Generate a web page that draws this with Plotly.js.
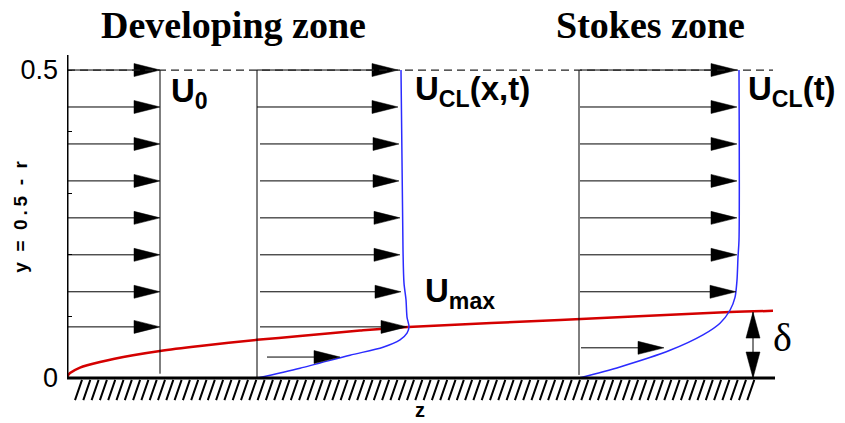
<!DOCTYPE html>
<html>
<head>
<meta charset="utf-8">
<script src="https://cdn.plot.ly/plotly-3.0.1.min.js"></script>
<style>html,body{margin:0;padding:0;background:#fff;}#chart{width:845px;height:423px;}</style>
</head>
<body>
<div id="chart"></div>
<script>
// ---------- data (z: streamwise distance, y = 0.5 - r) ----------
const zoneTitles = ["Developing zone", "Stokes zone"];
const zoneTitleZ = [1.66, 5.83];
const yTitle = "y = 0.5 - r";
const xTitle = "z";

// boundary-layer thickness delta(z)
const deltaZ = [0, 0.01, 0.03, 0.13, 0.33, 0.66, 0.93, 1.33, 1.90, 2.33, 2.93, 3.41, 4.93, 6.63, 7.06];
const deltaY = [0, 0.0045, 0.008, 0.017, 0.026, 0.037, 0.044, 0.052, 0.062, 0.068, 0.077, 0.083, 0.094, 0.107, 0.109];

// profile 1 (inlet, uniform U0)
const base1 = 0;
const levels1 = [0.5, 0.44, 0.38, 0.32, 0.26, 0.20, 0.14, 0.083];
const U0 = 0.93;

// profile 2 (developing)
const base2 = 1.90;
const levels2 = [0.5, 0.44, 0.38, 0.32, 0.26, 0.20, 0.14, 0.083, 0.034];
const u2 = [1.41, 1.41, 1.42, 1.42, 1.43, 1.43, 1.44, 1.50, 0.83];
const start2 = [0, 0, 0.03, 0.03, 0.03, 0.03, 0.03, 0.03, 0.10];
const curve2Y = [0, 0.016, 0.037, 0.050, 0.062, 0.073, 0.083, 0.099, 0.127, 0.154, 0.208, 0.5];
const curve2U = [0, 0.43, 0.93, 1.26, 1.43, 1.50, 1.52, 1.50, 1.49, 1.47, 1.46, 1.44];

// profile 3 (Stokes)
const base3 = 5.12;
const levels3 = [0.5, 0.44, 0.38, 0.32, 0.26, 0.20, 0.14, 0.049];
const u3 = [1.58, 1.58, 1.58, 1.58, 1.58, 1.58, 1.57, 0.85];
const start3 = [0.01, 0.01, 0.01, 0.01, 0.01, 0.01, 0.01, 0.02];
const curve3Y = [0, 0.018, 0.045, 0.070, 0.089, 0.110, 0.131, 0.159, 0.196, 0.224, 0.5];
const curve3U = [0, 0.41, 0.91, 1.24, 1.41, 1.51, 1.56, 1.58, 1.59, 1.60, 1.60];

// delta marker position
const deltaMarkZ = 6.86;
const deltaMarkY = 0.107;

// axis ticks
const yTickVals = [0, 0.1, 0.2, 0.3, 0.4, 0.5];
const yTickText = ["0", "", "", "", "", "0.5"];

// ---------- geometry helpers ----------
const W = 845, H = 423;
const M = {l: 67, r: 0, t: 55, b: 2};
const Z_RANGE = [0, 7.78];
const Y_RANGE = [-0.0698, 0.5244];
const PXZ = (W - M.l - M.r) / (Z_RANGE[1] - Z_RANGE[0]);
const PXY = (H - M.t - M.b) / (Y_RANGE[1] - Y_RANGE[0]);
const HEAD_L = 26 / PXZ, HEAD_H = 6.5 / PXY;

const shaftX = [], shaftY = [], headX = [], headY = [];
function arrow(x0, x1, y) {
  shaftX.push(x0, x1 - HEAD_L * 0.5, null); shaftY.push(y, y, null);
  headX.push(x1, x1 - HEAD_L, x1 - HEAD_L, x1, null);
  headY.push(y, y + HEAD_H, y - HEAD_H, y, null);
}
levels1.forEach(y => arrow(base1, base1 + U0, y));
levels2.forEach((y, i) => arrow(base2 + start2[i], base2 + u2[i], y));
levels3.forEach((y, i) => arrow(base3 + start3[i], base3 + u3[i], y));

// delta double arrow heads (vertical)
const VHL = 26 / PXY, VHW = 7 / PXZ;
headX.push(deltaMarkZ, deltaMarkZ - VHW, deltaMarkZ + VHW, deltaMarkZ, null);
headY.push(deltaMarkY, deltaMarkY - VHL, deltaMarkY - VHL, deltaMarkY, null);
headX.push(deltaMarkZ, deltaMarkZ - VHW, deltaMarkZ + VHW, deltaMarkZ, null);
headY.push(0, VHL, VHL, 0, null);

const traces = [
  {x: deltaZ, y: deltaY, mode: "lines", line: {color: "#d40000", width: 2.5, shape: "spline", smoothing: 0.8}, hoverinfo: "skip"},
  {x: curve2U.map(u => base2 + u), y: curve2Y, mode: "lines", line: {color: "#2b2bff", width: 1.5, shape: "spline", smoothing: 0.8}, hoverinfo: "skip"},
  {x: curve3U.map(u => base3 + u), y: curve3Y, mode: "lines", line: {color: "#2b2bff", width: 1.5, shape: "spline", smoothing: 0.8}, hoverinfo: "skip"},
  // profile lines: uniform U0 line and the base lines of profiles 2, 3
  {x: [base1 + U0, base1 + U0, null, base2, base2, null, base3, base3, null, deltaMarkZ, deltaMarkZ],
   y: [0.007, 0.5, null, 0, 0.5, null, 0.005, 0.5, null, 0, deltaMarkY],
   mode: "lines", line: {color: "#000", width: 1}, hoverinfo: "skip"},
  {x: shaftX, y: shaftY, mode: "lines", line: {color: "#000", width: 1}, hoverinfo: "skip"},
  {x: headX, y: headY, mode: "lines", fill: "toself", fillcolor: "#000", line: {color: "#000", width: 0.5}, hoverinfo: "skip"}
];

// hatch below the wall
let hatch = "";
const hatchTop = -0.003, hatchBot = -0.036, hatchSlant = 7 / PXZ, hatchStep = 8.3 / PXZ;
for (let z = 0.08; z <= 6.87; z += hatchStep) {
  hatch += `M${z.toFixed(4)},${hatchBot} L${(z + hatchSlant).toFixed(4)},${hatchTop} `;
}

const shapes = [
  {type: "line", xref: "x", yref: "y", x0: 0, x1: 7.06, y0: 0.5, y1: 0.5, line: {color: "#222", width: 1.2, dash: "8px,5px"}},
  {type: "line", xref: "x", yref: "y", x0: 0, x1: 0, y0: 0, y1: Y_RANGE[1], line: {color: "#000", width: 3}},
  {type: "line", xref: "x", yref: "y", x0: 0, x1: 7.08, y0: 0, y1: 0, line: {color: "#000", width: 3}},
  {type: "path", xref: "x", yref: "y", path: hatch, line: {color: "#000", width: 2}}
];

const sans = "Liberation Sans, Arial, sans-serif";
const serif = "Liberation Serif, Times New Roman, serif";
const UF = {family: sans, size: 33, color: "#000"};
// widen the rotated y label: double spaces, thin spaces around the decimal point
const spaced = s => s.replace(/ /g, "\u00A0 ").replace(".", "\u2009.\u2009");
const annotations = [
  ...zoneTitles.map((t, i) => ({text: "<b>" + t + "</b>", x: zoneTitleZ[i], xref: "x", y: 1.083, yref: "paper",
    showarrow: false, xanchor: "center", yanchor: "middle", font: {family: serif, size: 38, color: "#000"}})),
  {text: "<b>U<sub>0</sub></b>", x: 1.02, y: 0.462, xref: "x", yref: "y", xanchor: "left", yanchor: "middle", showarrow: false, font: UF},
  {text: "<b>U<sub>CL</sub>(x,t)</b>", x: 3.46, y: 0.466, xref: "x", yref: "y", xanchor: "left", yanchor: "middle", showarrow: false, font: UF},
  {text: "<b>U<sub>CL</sub>(t)</b>", x: 6.79, y: 0.466, xref: "x", yref: "y", xanchor: "left", yanchor: "middle", showarrow: false, font: UF},
  {text: "<b>U<sub>max</sub></b>", x: 3.56, y: 0.138, xref: "x", yref: "y", xanchor: "left", yanchor: "middle", showarrow: false, font: UF},
  {text: "δ", x: 7.04, y: 0.066, xref: "x", yref: "y", xanchor: "left", yanchor: "middle", showarrow: false, font: {family: serif, size: 40, color: "#000"}},
  {text: "<b>" + xTitle + "</b>", x: 3.53, y: -0.052, xref: "x", yref: "y", xanchor: "center", yanchor: "middle", showarrow: false, font: {family: sans, size: 20, color: "#000"}},
  {text: "<b>" + spaced(yTitle) + "</b>", x: -0.059, xref: "paper", y: 0.262, yref: "y", xanchor: "center", yanchor: "middle", textangle: -90, showarrow: false, font: {family: sans, size: 19, color: "#000"}}
];

const layout = {
  width: W, height: H, margin: M,
  paper_bgcolor: "#fff", plot_bgcolor: "#fff",
  showlegend: false,
  xaxis: {range: Z_RANGE, visible: false, fixedrange: true},
  yaxis: {range: Y_RANGE, showgrid: false, zeroline: false, showline: false,
          ticks: "inside", ticklen: 5, tickwidth: 1, tickcolor: "#000",
          tickvals: yTickVals, ticktext: yTickText, ticklabelstandoff: 8,
          tickfont: {family: sans, size: 27, color: "#000"}, fixedrange: true},
  shapes: shapes,
  annotations: annotations
};

Plotly.newPlot("chart", traces, layout, {displayModeBar: false, staticPlot: true});
</script>
</body>
</html>
